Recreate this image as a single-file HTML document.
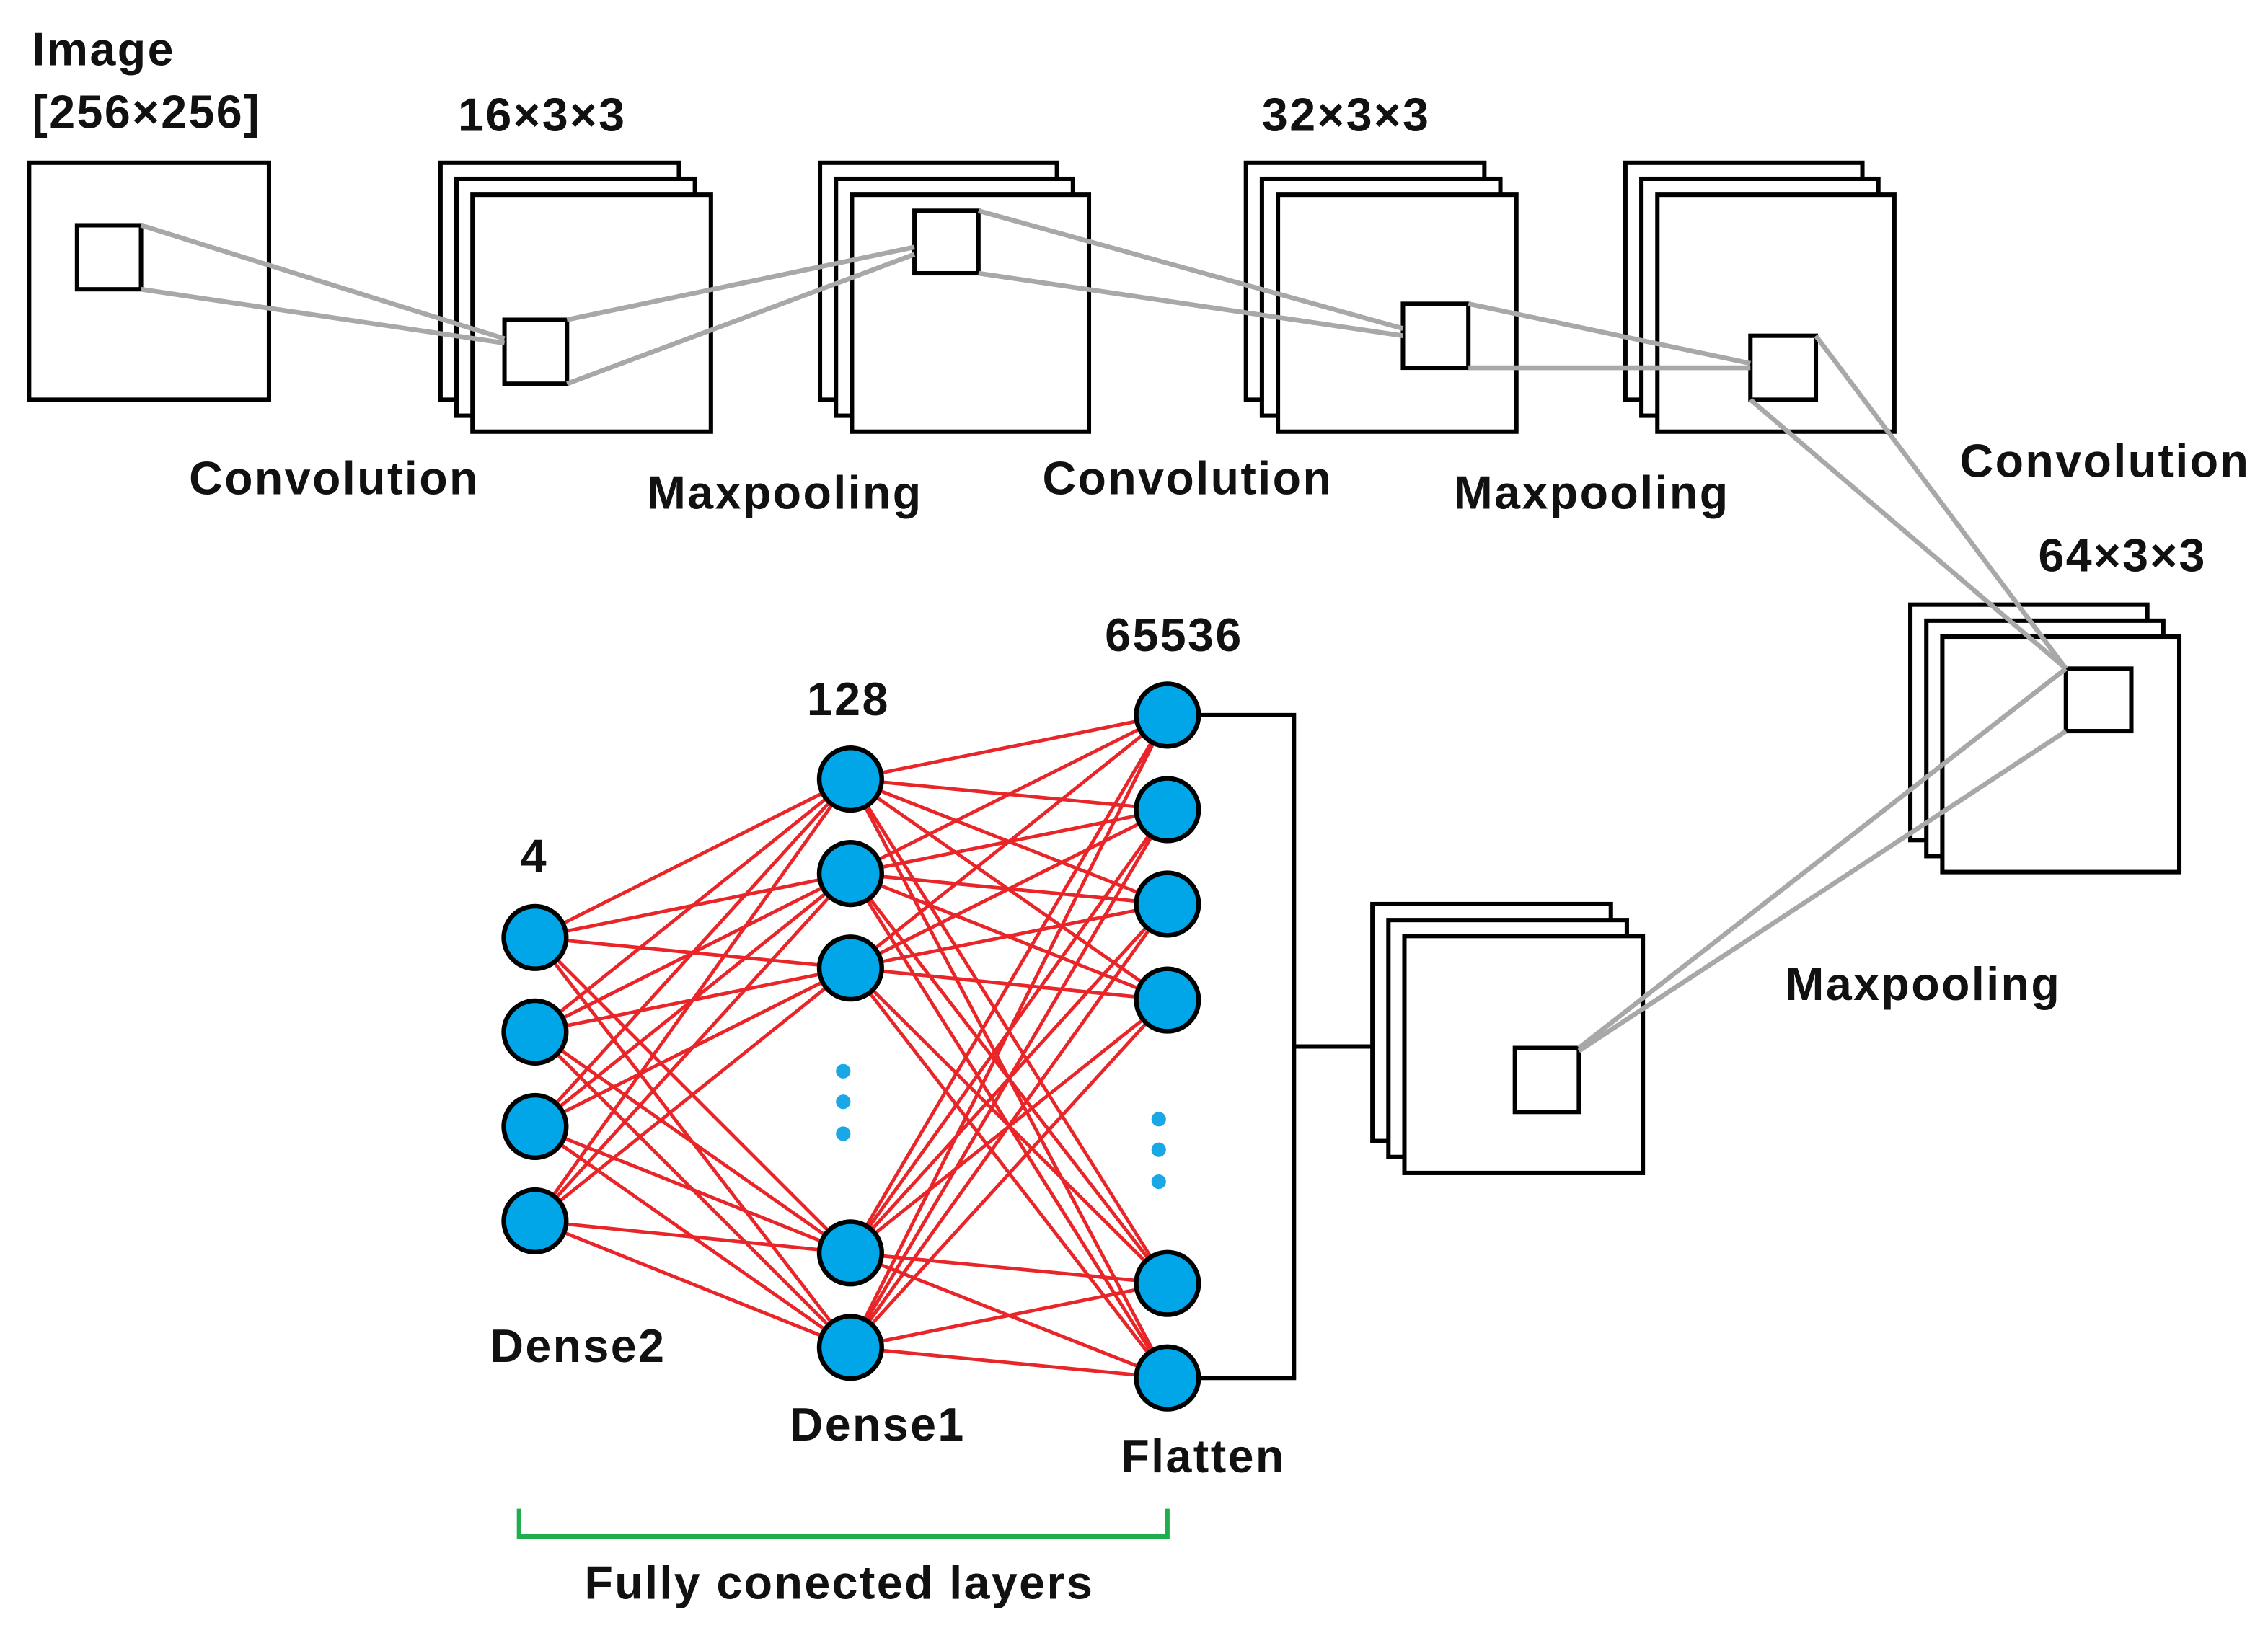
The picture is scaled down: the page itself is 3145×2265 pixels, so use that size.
<!DOCTYPE html>
<html><head><meta charset="utf-8"><style>
html,body{margin:0;padding:0;background:#fff;}
svg{display:block;}
text{font-family:"Liberation Sans",Arial,sans-serif;font-weight:bold;fill:#111;font-size:32px;letter-spacing:1.2px;}
</style></head><body>
<svg width="3145" height="2265" viewBox="0 0 1560 1123.5" xmlns="http://www.w3.org/2000/svg">
<g fill="#fff" stroke="#000" stroke-width="3">
<rect x="20" y="112" width="165" height="163"/>
<rect x="53" y="155" width="44" height="44"/>
<rect x="303" y="112" width="164" height="163"/>
<rect x="314" y="123" width="164" height="163"/>
<rect x="325" y="134" width="164" height="163"/>
<rect x="347" y="220" width="43" height="44"/>
<rect x="564" y="112" width="163" height="163"/>
<rect x="575" y="123" width="163" height="163"/>
<rect x="586" y="134" width="163" height="163"/>
<rect x="629" y="145" width="44" height="43"/>
<rect x="857" y="112" width="164" height="163"/>
<rect x="868" y="123" width="164" height="163"/>
<rect x="879" y="134" width="164" height="163"/>
<rect x="965" y="209" width="45" height="44"/>
<rect x="1118" y="112" width="163" height="163"/>
<rect x="1129" y="123" width="163" height="163"/>
<rect x="1140" y="134" width="163" height="163"/>
<rect x="1204" y="231" width="45" height="44"/>
<rect x="1314" y="416" width="163" height="162"/>
<rect x="1325" y="427" width="163" height="162"/>
<rect x="1336" y="438" width="163" height="162"/>
<rect x="1421" y="460" width="45" height="43"/>
<rect x="944" y="622" width="164" height="163"/>
<rect x="955" y="633" width="164" height="163"/>
<rect x="966" y="644" width="164" height="163"/>
<rect x="1042" y="721" width="44" height="44"/>
</g>
<g stroke="#a8a8a8" stroke-width="3.3" fill="none">
<line x1="97" y1="155" x2="347" y2="233"/>
<line x1="97" y1="199" x2="347" y2="236"/>
<line x1="390" y1="220" x2="629" y2="170"/>
<line x1="390" y1="264" x2="629" y2="175"/>
<line x1="673" y1="145" x2="965" y2="226"/>
<line x1="673" y1="188" x2="965" y2="231"/>
<line x1="1010" y1="209" x2="1204" y2="250"/>
<line x1="1010" y1="253" x2="1204" y2="253"/>
<line x1="1249" y1="231" x2="1421" y2="460"/>
<line x1="1204" y1="275" x2="1421" y2="460"/>
<line x1="1421" y1="460" x2="1086" y2="721"/>
<line x1="1421" y1="503" x2="1086" y2="723"/>
</g>
<polyline points="825,492 890,492 890,948 825,948" fill="none" stroke="#000" stroke-width="3"/>
<line x1="890" y1="720" x2="944" y2="720" stroke="#000" stroke-width="3"/>
<polyline points="357,1038 357,1057 803,1057 803,1038" fill="none" stroke="#1fae4b" stroke-width="3"/>
<g stroke="#e8262a" stroke-width="2.4" id="edges"></g>
<g id="nodes" fill="#00a6e8" stroke="#000" stroke-width="3.2"></g>
<g fill="#1aa7e6">
<circle cx="580" cy="737" r="5"/><circle cx="580" cy="758" r="5"/><circle cx="580" cy="780" r="5"/>
<circle cx="797" cy="770" r="5"/><circle cx="797" cy="791" r="5"/><circle cx="797" cy="813" r="5"/>
</g>
<text x="22" y="45">Image</text>
<text x="22" y="88">[256×256]</text>
<text x="315" y="90">16×3×3</text>
<text x="868" y="90">32×3×3</text>
<text x="1402" y="393">64×3×3</text>
<text x="130" y="340">Convolution</text>
<text x="445" y="350">Maxpooling</text>
<text x="717" y="340">Convolution</text>
<text x="1000" y="350">Maxpooling</text>
<text x="1348" y="328">Convolution</text>
<text x="1228" y="688">Maxpooling</text>
<text x="358" y="600">4</text>
<text x="555" y="492">128</text>
<text x="760" y="448">65536</text>
<text x="337" y="937">Dense2</text>
<text x="543" y="991">Dense1</text>
<text x="771" y="1013">Flatten</text>
<text x="402" y="1100">Fully conected layers</text>
<script>
var ns="http://www.w3.org/2000/svg";
var L0=[[368,645],[368,710],[368,775],[368,840]];
var L1=[[585,536],[585,601],[585,666],[585,862],[585,927]];
var L2=[[803,492],[803,557],[803,622],[803,688],[803,883],[803,948]];
var e=document.getElementById("edges"),n=document.getElementById("nodes");
function ln(a,b){var l=document.createElementNS(ns,"line");l.setAttribute("x1",a[0]);l.setAttribute("y1",a[1]);l.setAttribute("x2",b[0]);l.setAttribute("y2",b[1]);e.appendChild(l);}
L0.forEach(function(a){L1.forEach(function(b){ln(a,b);});});
L1.forEach(function(a){L2.forEach(function(b){ln(a,b);});});
L0.concat(L1,L2).forEach(function(p){var c=document.createElementNS(ns,"circle");c.setAttribute("cx",p[0]);c.setAttribute("cy",p[1]);c.setAttribute("r",21.5);n.appendChild(c);});
</script>
</svg>
</body></html>
